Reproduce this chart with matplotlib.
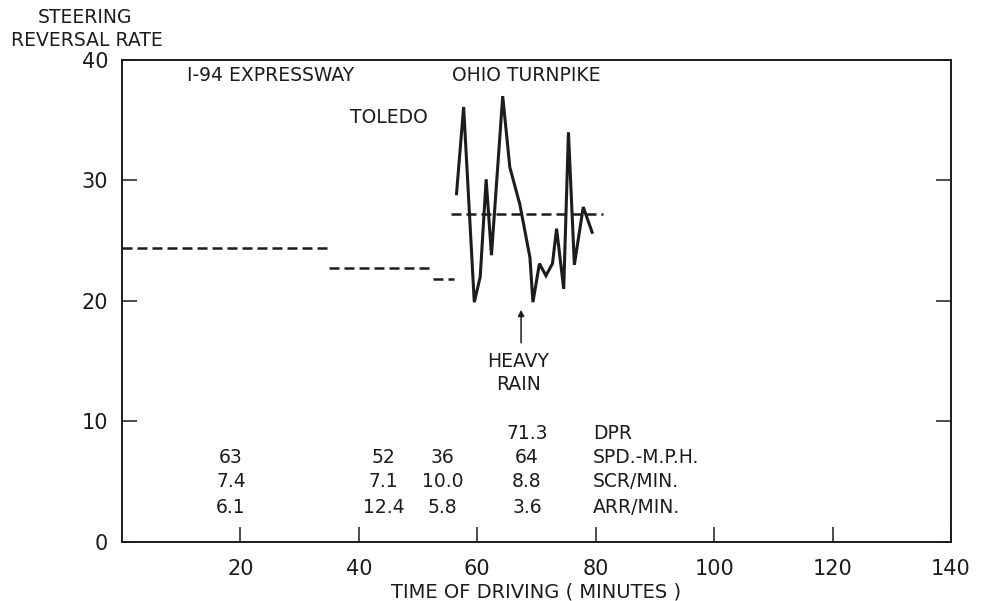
import matplotlib.pyplot as plt

# steering reversal rate on the Ohio Turnpike (solid line)
turnpike_min = [56.5, 57.7, 59.5, 60.5, 61.5, 62.4, 64.3, 65.5, 67.2, 68.9,
                69.4, 70.5, 71.6, 72.7, 73.4, 74.6, 75.4, 76.4, 77.9, 79.4]
turnpike_rate = [28.9, 36.1, 19.9, 22.0, 30.1, 23.8, 37.0, 31.1, 28.0, 23.6,
                 19.9, 23.1, 22.1, 23.1, 26.0, 21.0, 34.0, 23.0, 27.8, 25.7]

# segment averages (dashed lines)
seg_start = [0, 35, 52.5, 55.5]
seg_end = [35, 52, 56, 81.3]
seg_rate = [24.4, 22.7, 21.8, 27.2]

# table under the curves
col_min = [18.4, 44.2, 54.1, 68.4]
row_names = ["DPR", "SPD.-M.P.H.", "SCR/MIN.", "ARR/MIN."]
dpr = ["", "", "", "71.3"]
spd = ["63", "52", "36", "64"]
scr = ["7.4", "7.1", "10.0", "8.8"]
arr = ["6.1", "12.4", "5.8", "3.6"]

ink = "#1c1c1c"
plt.rcParams["font.family"] = "DejaVu Sans"
fs = 13.5

fig = plt.figure(figsize=(9.82, 6.01), dpi=100)
ax = fig.add_axes([0.1242, 0.0982, 0.8442, 0.802])

for s, e, r in zip(seg_start, seg_end, seg_rate):
    ax.plot([s, e], [r, r], color=ink, lw=1.8, dashes=(4.0, 2.0))
ax.plot(turnpike_min, turnpike_rate, color=ink, lw=2.2, solid_joinstyle="miter")

ax.set_xlim(0, 140)
ax.set_ylim(0, 40)
ax.set_xticks([20, 40, 60, 80, 100, 120, 140])
ax.set_yticks([0, 10, 20, 30, 40])
ax.tick_params(axis="both", direction="in", length=11, width=1.1, color=ink,
               labelsize=15, labelcolor=ink, pad=10)
ax.tick_params(axis="x", pad=12)
ax.tick_params(axis="y", right=True)
for sp in ax.spines.values():
    sp.set_linewidth(1.4)
    sp.set_color(ink)

ax.set_xlabel("TIME OF DRIVING ( MINUTES )", fontsize=14, color=ink, labelpad=3)
fig.text(0.0866, 0.9717, "STEERING", ha="center", va="center", fontsize=13.5, color=ink)
fig.text(0.0886, 0.9334, "REVERSAL RATE", ha="center", va="center", fontsize=13.5, color=ink)

# labels on the plot
ax.text(11.0, 38.7, "I-94 EXPRESSWAY", fontsize=fs, color=ink, va="center")
ax.text(55.7, 38.7, "OHIO TURNPIKE", fontsize=fs, color=ink, va="center")
ax.text(38.5, 35.2, "TOLEDO", fontsize=fs, color=ink, va="center")
ax.text(66.9, 15.0, "HEAVY", fontsize=fs, color=ink, ha="center", va="center")
ax.text(66.9, 13.1, "RAIN", fontsize=fs, color=ink, ha="center", va="center")
ax.annotate("", xy=(67.4, 19.5), xytext=(67.4, 16.3),
            arrowprops=dict(arrowstyle="-|>", color=ink, lw=1.1, mutation_scale=9))

row_y = [9.0, 7.0, 5.0, 2.9]
for y, name, vals in zip(row_y, row_names, [dpr, spd, scr, arr]):
    for x, v in zip(col_min, vals):
        ax.text(x, y, v, fontsize=fs, color=ink, ha="center", va="center")
    ax.text(79.5, y, name, fontsize=fs, color=ink, ha="left", va="center")

fig.savefig("out.png", dpi=100, facecolor="white")
